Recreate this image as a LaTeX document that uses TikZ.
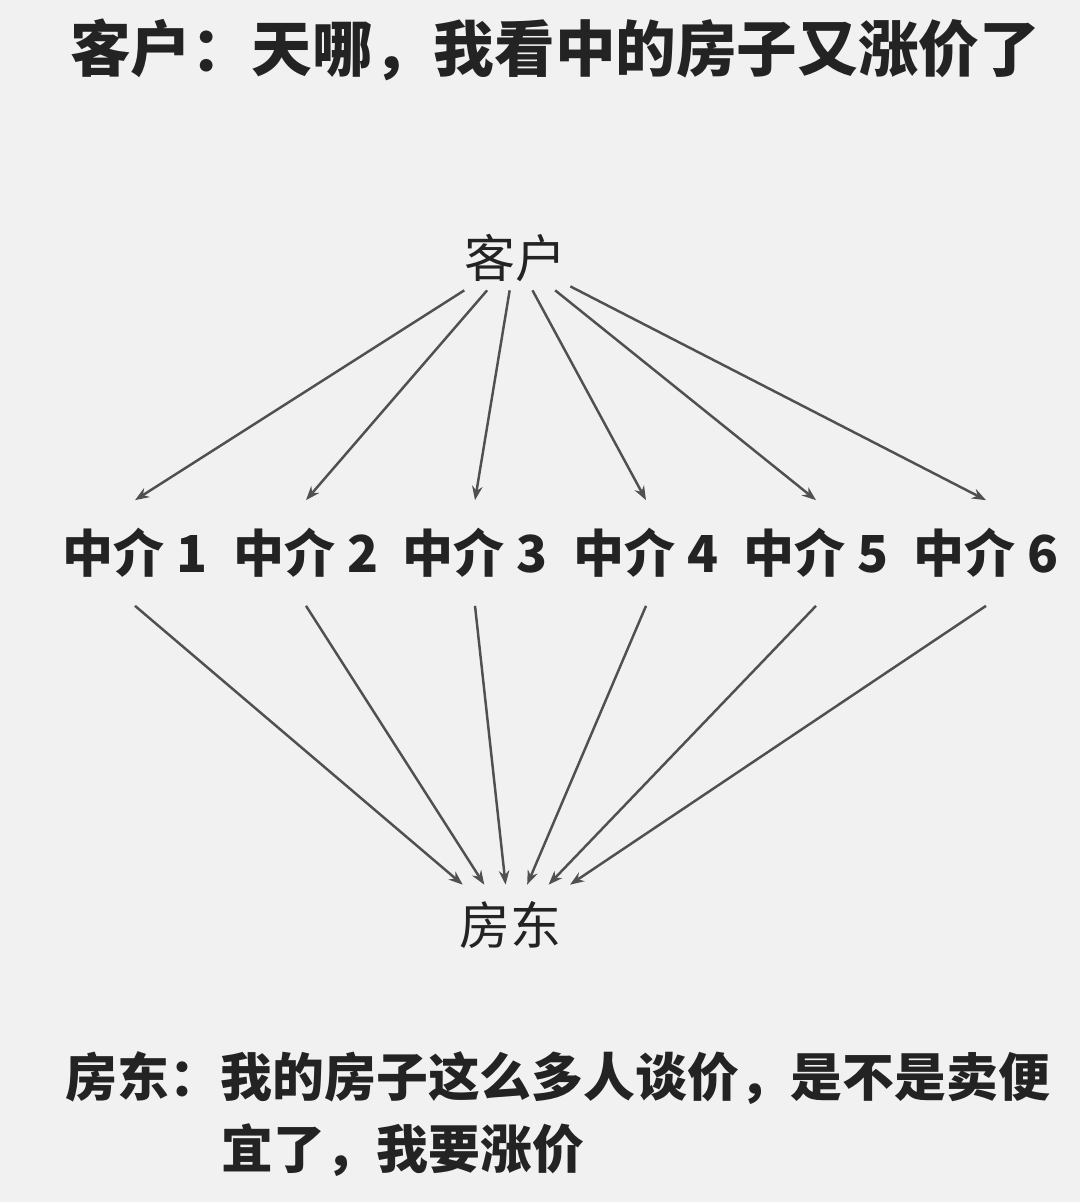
\documentclass[tikz,border=0pt]{standalone}
\usepackage{fontspec}
\usepackage{tikz}
\usetikzlibrary{arrows.meta}
\setmainfont{Noto Sans CJK SC}
\definecolor{ink}{RGB}{35,35,35}
\definecolor{paper}{RGB}{241,241,241}
\definecolor{wire}{RGB}{80,80,80}

\begin{document}
\begin{tikzpicture}[x=0.02cm,y=-0.02cm,>={Stealth[length=8pt,width=6pt]}]
   \fill[paper] (0,0) rectangle (1080,1202);
   \useasboundingbox (0,0) rectangle (1080,1202);
   \tikzstyle{main}=[text=ink, inner sep=0pt]
   \tikzstyle{link}=[->, draw=wire, line width=1.4pt]
   \node[main] (title) at (555,50) {\fontsize{34.5pt}{40pt}\selectfont\bfseries 客户：天哪，我看中的房子又涨价了};
   \node[main, minimum height=1.28cm, minimum width=2.2cm] (client) at (515,258) {\fontsize{29pt}{34pt}\selectfont 客户};
   \node[main, minimum height=1.6cm, minimum width=2.6cm] (landlord) at (510,925) {\fontsize{29pt}{34pt}\selectfont 房东};
   \foreach \i/\x in {1/135,2/306,3/475,4/646,5/816,6/986} {
       \node[main, minimum height=2.1cm] (agent\i) at (\x,553) {\fontsize{29pt}{34pt}\selectfont\bfseries 中介 \i};
       \path (client) edge[link] (agent\i.north);
       \path (agent\i.south) edge[link] (landlord);
   }
   \node[main, anchor=west] (note1) at (65,1078) {\fontsize{29.5pt}{34pt}\selectfont\bfseries 房东：我的房子这么多人谈价，是不是卖便};
   \node[main, anchor=west] (note2) at (221,1150) {\fontsize{29.5pt}{34pt}\selectfont\bfseries 宜了，我要涨价};
\end{tikzpicture}
\end{document}
